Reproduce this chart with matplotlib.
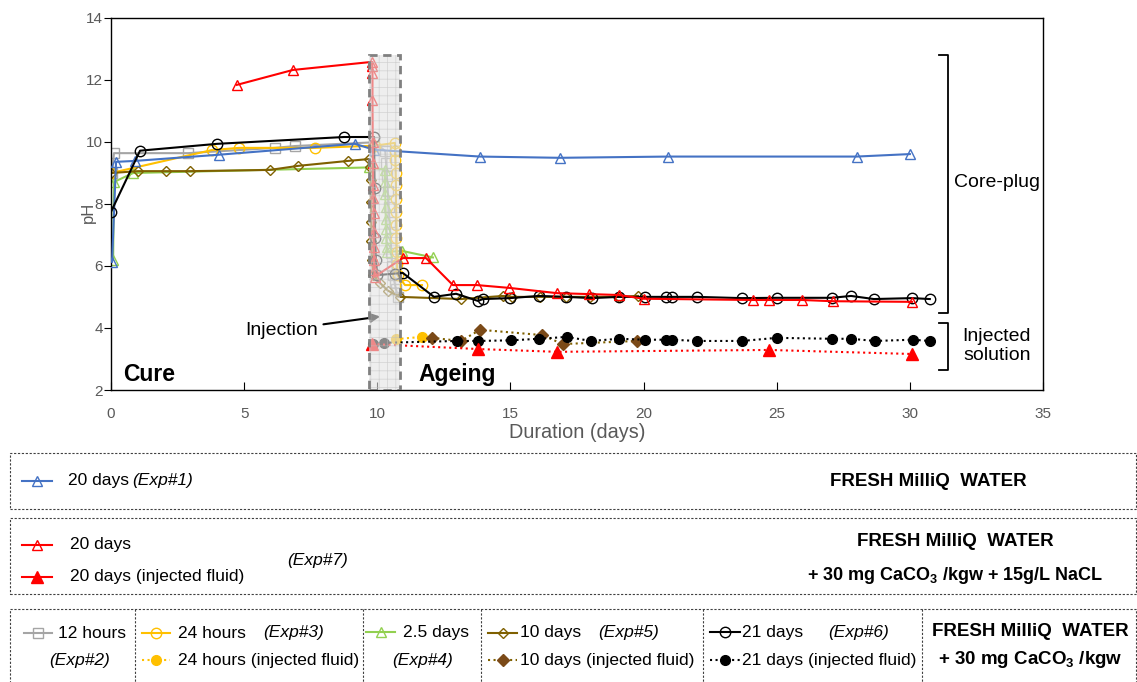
import matplotlib
matplotlib.use('Agg')
import matplotlib.pyplot as plt
from matplotlib.patches import Rectangle
from matplotlib.lines import Line2D

plt.rcParams['font.family'] = ['Liberation Sans', 'DejaVu Sans']
plt.rcParams['mathtext.fontset'] = 'custom'
plt.rcParams['mathtext.rm'] = 'Liberation Sans'
plt.rcParams['mathtext.bf'] = 'Liberation Sans:bold'
plt.rcParams['hatch.linewidth'] = 0.5
plt.rcParams['hatch.color'] = '#b0b0b0'

# ---- data (duration in days, pH) ----
# Exp#1 - 20 days, fresh MilliQ water
x1 = [0.04, 0.19, 0.9, 4.06, 9.16, 9.88, 13.86, 16.86, 20.92, 28.0, 30.0]
p1 = [6.13, 9.35, 9.38, 9.58, 9.93, 9.74, 9.52, 9.48, 9.52, 9.52, 9.6]

# Exp#7 - 20 days, + CaCO3 + NaCl
x7 = [4.73, 6.83, 9.8, 9.81, 9.82, 9.82, 9.83, 9.84, 9.84, 9.85, 9.86, 9.86, 9.87, 9.88, 9.89, 9.9,
      10.96, 11.83, 12.84, 13.74, 14.95, 16.75, 17.95, 19.08, 20.0, 24.1, 24.7, 25.95, 27.1, 30.08]
p7 = [11.83, 12.31, 12.57, 12.45, 12.2, 11.35, 10.0, 9.3, 8.6, 8.2, 7.7, 7.1, 6.6, 6.2, 5.85, 5.65,
      6.25, 6.25, 5.38, 5.38, 5.29, 5.12, 5.09, 5.06, 4.94, 4.9, 4.9, 4.9, 4.86, 4.84]
x7i = [9.8, 13.78, 16.75, 24.7, 30.08]
p7i = [3.48, 3.32, 3.23, 3.29, 3.16]

# Exp#2 - 12 hours
x2 = [0.05, 0.11, 2.89, 6.16, 6.91, 9.88, 10.3, 10.33, 10.36, 10.4, 10.43, 10.46, 10.5, 10.53,
      10.56, 10.6, 10.65, 10.7, 10.78]
p2 = [9.0, 9.63, 9.63, 9.8, 9.86, 9.98, 9.7, 9.3, 8.9, 8.4, 7.9, 7.4, 6.9, 6.4, 6.0, 5.7, 5.45, 5.25, 5.0]

# Exp#3 - 24 hours
x3 = [0.0, 3.79, 4.81, 7.66, 9.9, 10.66, 10.67, 10.68, 10.69, 10.7, 10.7, 10.71, 10.72, 10.72,
      10.73, 10.74, 10.76, 11.04, 11.68]
p3 = [8.99, 9.73, 9.8, 9.8, 9.87, 9.96, 9.7, 9.4, 9.0, 8.6, 8.15, 7.75, 7.3, 6.9, 6.45, 6.05, 5.7,
      5.38, 5.38]
x3i = [10.7, 11.68]
p3i = [3.64, 3.71]

# Exp#4 - 2.5 days
x4 = [0.08, 0.11, 0.83, 9.69, 10.28, 10.29, 10.3, 10.31, 10.32, 10.33, 10.34, 10.35, 10.36, 10.93, 12.09]
p4 = [6.19, 8.7, 8.99, 9.17, 9.1, 8.7, 8.3, 7.9, 7.5, 7.2, 6.9, 6.6, 6.45, 6.48, 6.27]

# Exp#5 - 10 days
x5 = [0.0, 1.01, 2.07, 2.97, 5.97, 7.02, 8.9, 9.69, 9.74, 9.75, 9.76, 9.77, 9.78, 9.8, 9.85,
      10.1, 10.4, 10.85, 13.14, 14.72, 15.06, 16.11, 17.09, 17.99, 19.08, 19.79]
p5 = [8.99, 9.05, 9.05, 9.05, 9.09, 9.22, 9.38, 9.44, 9.2, 8.76, 8.05, 7.4, 6.8, 6.2, 5.7,
      5.45, 5.2, 5.0, 4.93, 5.03, 5.0, 5.0, 5.0, 5.0, 5.0, 5.03]
x5i = [12.05, 13.14, 13.86, 16.18, 16.97, 19.75]
p5i = [3.68, 3.58, 3.94, 3.77, 3.48, 3.58]

# Exp#6 - 21 days
x6 = [0.0, 1.09, 3.98, 8.75, 9.88, 9.9, 9.92, 9.95, 10.0, 10.66, 10.96, 12.13, 12.96, 13.78, 13.97,
      14.98, 16.07, 17.09, 18.06, 19.08, 20.05, 20.84, 21.07, 22.0, 23.7, 25.0, 27.07, 27.79, 28.65,
      30.08, 30.75]
p6 = [7.74, 9.71, 9.93, 10.15, 10.15, 8.5, 6.9, 6.2, 5.7, 5.75, 5.77, 5.0, 5.1, 4.87, 4.93, 4.96,
      5.03, 5.0, 4.96, 5.0, 5.0, 5.0, 5.0, 5.0, 4.96, 4.97, 4.97, 5.03, 4.93, 4.96, 4.93]
x6i = [9.84, 10.25, 12.99, 13.78, 15.02, 16.07, 17.12, 18.02, 19.08, 20.05, 20.84, 21.07, 22.0,
       23.7, 25.0, 27.07, 27.79, 28.69, 30.1, 30.75]
p6i = [3.48, 3.52, 3.58, 3.58, 3.6, 3.65, 3.71, 3.58, 3.65, 3.62, 3.62, 3.62, 3.58, 3.58, 3.68,
       3.65, 3.65, 3.58, 3.62, 3.58]

BLUE = '#4472C4'
RED = '#FF0000'
GRAY = '#A5A5A5'
YELLOW = '#FFC000'
GREEN = '#92D050'
BROWN = '#7F6000'
BROWN_I = '#7B4A18'
BLACK = '#000000'
TXT = '#595959'

W, H = 1137, 682
fig = plt.figure(figsize=(W / 100, H / 100), dpi=100)


def fx(px):
    return px / W


def fy(py):
    return 1 - py / H


ax = fig.add_axes([fx(111), fy(390), (1043 - 111) / W, (390 - 17.5) / H])

kw = dict(lw=1.5, mew=1.0)
ax.plot(x2, p2, color=GRAY, marker='s', ms=6.5, mfc='none', zorder=2, **kw)
ax.plot(x4, p4, color=GREEN, marker='^', ms=7.5, mfc='none', zorder=2, **kw)
ax.plot(x3, p3, color=YELLOW, marker='o', ms=7.5, mfc='none', zorder=2, **kw)
ax.plot(x5, p5, color=BROWN, marker='D', ms=5.5, mfc='none', zorder=2, **kw)
ax.plot(x1, p1, color=BLUE, marker='^', ms=7.5, mfc='none', zorder=3, **kw)
ax.plot(x6, p6, color=BLACK, marker='o', ms=7.5, mfc='none', zorder=3, **kw)
ax.plot(x7, p7, color=RED, marker='^', ms=7.5, mfc='none', zorder=3, **kw)

ax.plot(x3i, p3i, color=YELLOW, ls=':', lw=1.5, marker='o', ms=7, zorder=3)
ax.plot(x5i, p5i, color=BROWN, ls=':', lw=1.5, marker='D', ms=6, mfc=BROWN_I, mec=BROWN_I, zorder=3)
ax.plot(x6i, p6i, color=BLACK, ls=':', lw=1.5, marker='o', ms=7, zorder=3)
ax.plot(x7i, p7i, color=RED, ls=':', lw=1.5, marker='^', ms=8, zorder=3)

# injection window (drawn over the data)
ax.add_patch(Rectangle((9.69, 2), 1.16, 10.8, facecolor='#e4e4e4', edgecolor='#c0c0c0', lw=0,
                       hatch='++', alpha=0.6, zorder=5))
ax.add_patch(Rectangle((9.69, 2), 1.16, 10.8, fill=False, edgecolor='#808080', lw=2, ls=(0, (3, 2)),
                       zorder=6))

ax.set_xlim(0, 35)
ax.set_ylim(2, 14)
ax.set_xticks(range(0, 36, 5))
ax.set_yticks(range(2, 15, 2))
ax.tick_params(axis='y', direction='out', length=5, labelsize=11, labelcolor=TXT, pad=1)
ax.tick_params(axis='x', direction='in', length=6, labelsize=11, labelcolor=TXT, pad=12)
for s in ax.spines.values():
    s.set_color('black')
    s.set_linewidth(1.0)

ax.text(0.45, 2.5, 'Cure', fontsize=16.5, fontweight='bold', va='center', ha='left')
ax.text(11.53, 2.5, 'Ageing', fontsize=16.5, fontweight='bold', va='center', ha='left')
ax.annotate('Injection', xy=(10.21, 4.38), xytext=(7.77, 3.93), fontsize=14, ha='right', va='center',
            arrowprops=dict(arrowstyle='-|>', color='black', lw=1.5, mutation_scale=14))

# brackets on the right
bx, bt = 31.43, 31.1
for top, bot in [(12.79, 4.48), (4.16, 2.64)]:
    ax.plot([bt, bx, bx, bt], [top, top, bot, bot], color='black', lw=1.3, clip_on=False)
ax.text(33.27, 8.67, 'Core-plug', fontsize=14, ha='center', va='center')
ax.text(33.27, 3.42, 'Injected\nsolution', fontsize=14, ha='center', va='center', linespacing=1.15)

fig.text(fx(88), fy(212), 'pH', rotation=90, color=TXT, fontsize=12, ha='center', va='center')
fig.text(fx(577), fy(433), 'Duration (days)', color=TXT, fontsize=14.3, ha='center', va='center')

# ---- legend boxes ----
def box(x0, y0, x1, y1):
    fig.add_artist(Rectangle((fx(x0), fy(y1)), fx(x1) - fx(x0), fy(y0) - fy(y1), fill=False,
                             edgecolor='#404040', lw=0.8, ls=(0, (2, 1.5)),
                             transform=fig.transFigure))


def vline(x, y0, y1):
    fig.add_artist(Line2D([fx(x), fx(x)], [fy(y0), fy(y1)], color='#404040', lw=0.8,
                          ls=(0, (2, 1.5)), transform=fig.transFigure))


def sample(x0, x1, y, color, marker, ms, mfc='none', ls='-', mec=None):
    fig.add_artist(Line2D([fx(x0), fx(x1)], [fy(y), fy(y)], color=color, lw=1.5, ls=ls,
                          transform=fig.transFigure))
    fig.add_artist(Line2D([fx((x0 + x1) / 2)], [fy(y)], color=color, marker=marker, ms=ms, mfc=mfc,
                          mec=mec or color, mew=1.0, transform=fig.transFigure))


def t(x, y, s, ha='left', **k):
    fig.text(fx(x), fy(y), s, ha=ha, va='center', fontsize=k.pop('fontsize', 12.5), **k)


BOLD = 13.5

box(10, 453, 1136, 509)
sample(22, 52, 481, BLUE, '^', 7.5)
t(68, 481, '20 days')
t(132, 481, '(Exp#1)', style='italic')
t(928, 482, 'FRESH MilliQ  WATER', ha='center', fontweight='bold', fontsize=BOLD)

box(10, 518, 1136, 594)
sample(22, 52, 545, RED, '^', 7.5)
t(70, 545, '20 days')
sample(22, 52, 577, RED, '^', 8, mfc=RED)
t(70, 577, '20 days (injected fluid)')
t(318, 560, '(Exp#7)', ha='center', style='italic')
t(955, 542, 'FRESH MilliQ  WATER', ha='center', fontweight='bold', fontsize=BOLD)
t(955, 576, r'+ 30 mg CaCO$_\mathbf{3}$ /kgw + 15g/L NaCL', ha='center', fontweight='bold', fontsize=13)

box(10, 609, 1136, 700)
for xv in [135, 363, 481, 703, 922]:
    vline(xv, 609, 682)
sample(24, 52, 633, GRAY, 's', 6.5)
t(58, 633, '12 hours')
t(80, 660, '(Exp#2)', ha='center', style='italic')
sample(142, 170, 633, YELLOW, 'o', 7.5)
t(178, 633, '24 hours')
t(263, 633, '(Exp#3)', style='italic')
sample(142, 170, 660, YELLOW, 'o', 7, mfc=YELLOW, ls=':')
t(178, 660, '24 hours (injected fluid)')
sample(366, 395, 632, GREEN, '^', 7.5)
t(403, 632, '2.5 days')
t(423, 660, '(Exp#4)', ha='center', style='italic')
sample(488, 517, 633, BROWN, 'D', 5.5)
t(520, 633, '10 days')
t(598, 633, '(Exp#5)', style='italic')
sample(488, 517, 660, BROWN, 'D', 6, mfc=BROWN_I, ls=':', mec=BROWN_I)
t(520, 660, '10 days (injected fluid)')
sample(710, 740, 632, BLACK, 'o', 7.5)
t(742, 632, '21 days')
t(828, 632, '(Exp#6)', style='italic')
sample(710, 740, 660, BLACK, 'o', 7, mfc=BLACK, ls=':')
t(742, 660, '21 days (injected fluid)')
t(1030, 632, 'FRESH MilliQ  WATER', ha='center', fontweight='bold', fontsize=BOLD)
t(1030, 660, r'+ 30 mg CaCO$_\mathbf{3}$ /kgw', ha='center', fontweight='bold', fontsize=BOLD)

fig.savefig('out.png', dpi=100)
